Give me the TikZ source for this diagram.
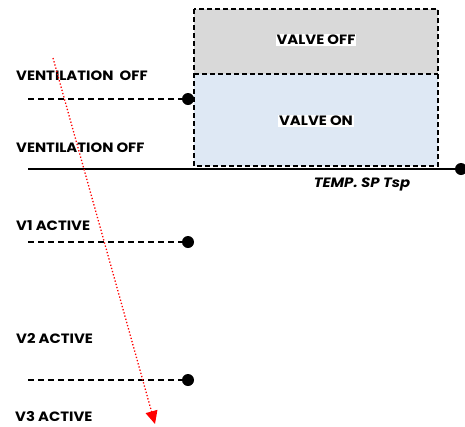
\documentclass[tikz,border=0pt]{standalone}
\usepackage{fontspec}
\setmainfont{Poppins}
\newfontfamily\widefont[FakeStretch=1.1]{Poppins}
\usetikzlibrary{positioning}
\usetikzlibrary{arrows.meta}
\definecolor{offgray}{HTML}{D9D9D9}
\definecolor{onblue}{HTML}{DEE8F4}
\tikzset{
    % Bold capital labels
    state label/.style={font=\widefont\bfseries\fontsize{13.5}{15}\selectfont,
        inner sep=1pt, anchor=base west},
%
    % Dashed frame of the valve zones
    zone box/.style={draw, dashed, line width=1.2pt,
        dash pattern=on 5pt off 3pt},
%
    % Dashed level lines
    level line/.style={dashed, line width=1.2pt, dash pattern=on 6pt off 4pt},
%
    % End point dots
    dot/.style={circle, fill=black, inner sep=0, minimum size=12pt}}

\begin{document}
\begin{tikzpicture}[x=1pt, y=-1pt]

\useasboundingbox (0,0) rectangle (465,426);

\fill [offgray] (194,9) rectangle (438,74);
\fill [onblue] (194,74) rectangle (438,166);
\draw [zone box] (194,9) rectangle (438,166);
\draw [zone box] (194,74) -- (438,74);

\node (voff) [state label, anchor=center, fill=white] at (316,40) {VALVE OFF};
\node (von) [state label, anchor=center, fill=white] at (316,121) {VALVE ON};

\node (l0) [state label] at (15,80) {VENTILATION\ \ OFF};
\node (l1) [state label] at (15,152) {VENTILATION OFF};
\node (l2) [state label] at (15,230) {V1 ACTIVE};
\node (l3) [state label] at (15,343) {V2 ACTIVE};
\node (l4) [state label, inner sep=0pt] at (15,421) {V3 ACTIVE};

\coordinate (a0) at (28,99);
\coordinate (a1) at (28,169);
\coordinate (a2) at (28,242);
\coordinate (a3) at (28,380);

\node (d0) [dot] at (188,99) {};
\node (d1) [dot] at (461,169) {};
\node (d2) [dot] at (188,242) {};
\node (d3) [dot] at (188,380) {};

\draw [level line] (a0) -- (d0);
\draw [line width=2.6pt] (a1) -- (d1);
\draw [level line] (a2) -- (d2);
\draw [level line] (a3) -- (d3);

\node (tsp) [font=\widefont\bfseries\itshape\fontsize{13.5}{15}\selectfont,
    anchor=base] at (362,187) {TEMP. SP Tsp};

\coordinate (r0) at (53,58);
\coordinate (r1) at (155,424);
\draw [red, dotted, line width=1.3pt,
    -{Triangle[length=13pt, width=12pt, fill=red]}] (r0) -- (r1);

\end{tikzpicture}
\end{document}
